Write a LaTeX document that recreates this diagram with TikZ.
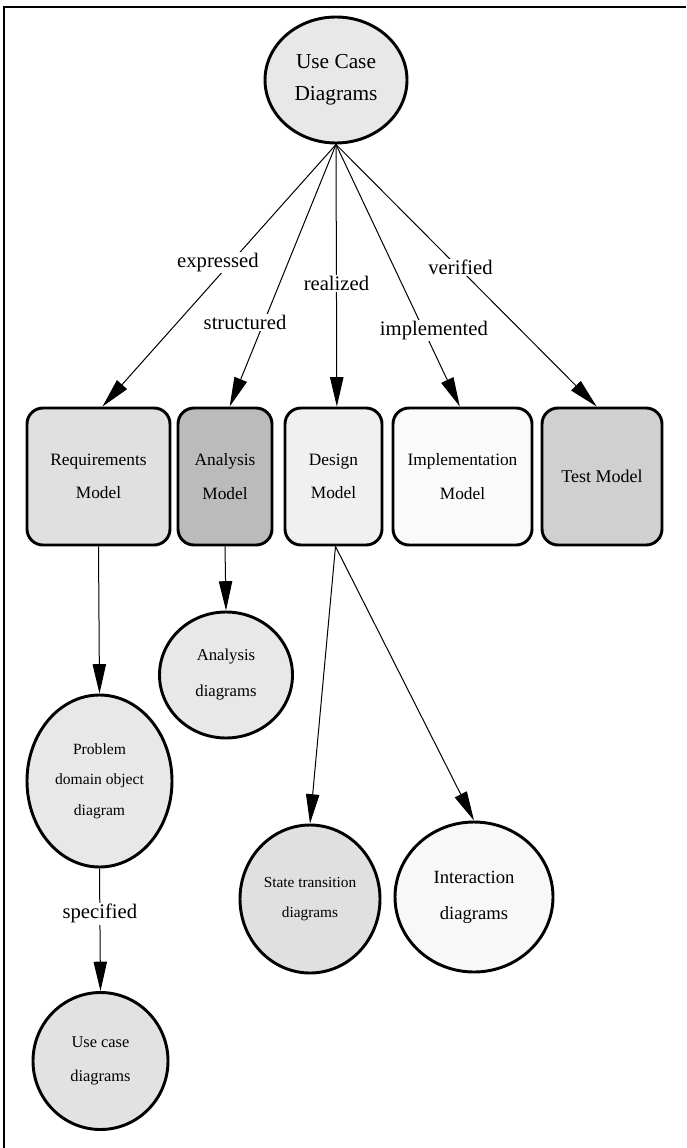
\documentclass[tikz,border=0pt]{standalone}
\usepackage{fontspec}
\setmainfont{Liberation Serif}
\usetikzlibrary{shapes.geometric,arrows.meta}

\definecolor{ucdgray}{HTML}{E8E8E8}
\definecolor{reqgray}{HTML}{E0E0E0}
\definecolor{anagray}{HTML}{BBBBBB}
\definecolor{desgray}{HTML}{F0F0F0}
\definecolor{impgray}{HTML}{FAFAFA}
\definecolor{tstgray}{HTML}{D0D0D0}
\definecolor{intgray}{HTML}{F8F8F8}

\begin{document}
\begin{tikzpicture}[x=0.75pt, y=-0.75pt,
  oval/.style={ellipse, draw, line width=2.2pt, inner sep=0pt, align=center},
  model/.style={rectangle, rounded corners=12pt, draw, line width=2.2pt,
    minimum height=102.75pt, inner sep=0pt, align=center,
    font=\fontsize{13}{25}\selectfont},
  edge/.style={-{Triangle[length=22pt,width=10pt]}, line width=0.75pt},
  lbl/.style={fill=white, inner sep=1pt, font=\fontsize{15.5}{18}\selectfont}]

  \useasboundingbox (0,0) rectangle (686,1148);

  % Frame
  \draw[line width=2pt] (4,1148) -- (4,7) -- (686,7);

  % Top node
  \node[oval, fill=ucdgray, minimum width=106.5pt, minimum height=94.5pt,
    font=\fontsize{16}{24}\selectfont] (ucd) at (336,80) {Use Case\\Diagrams};

  % Models
  \node[model, fill=reqgray, minimum width=107.25pt] (req) at (98.5,476.5) {Requirements\\Model};
  \node[model, fill=anagray, minimum width=70.5pt] (ana) at (225,476.5) {Analysis\\Model};
  \node[model, fill=desgray, minimum width=72.75pt] (des) at (333.5,476.5) {Design\\Model};
  \node[model, fill=impgray, minimum width=104.25pt] (imp) at (462.5,476.5) {Implementation\\Model};
  \node[model, fill=tstgray, minimum width=90pt, font=\fontsize{13.5}{25}\selectfont] (tst) at (602,476.5) {Test Model};

  % Diagrams
  \node[oval, fill=ucdgray, minimum width=99.75pt, minimum height=94.5pt,
    font=\fontsize{12.5}{27}\selectfont] (anad) at (226,675) {Analysis\\diagrams};
  \node[oval, fill=ucdgray, minimum width=108.75pt, minimum height=129pt,
    font=\fontsize{11.7}{23}\selectfont] (pdod) at (99.5,781) {Problem\\domain object\\diagram};
  \node[oval, fill=reqgray!80!ucdgray, minimum width=101.25pt, minimum height=102.75pt,
    font=\fontsize{12.3}{25}\selectfont] (ucdd) at (100.5,1061) {Use case\\diagrams};
  \node[oval, fill=reqgray, minimum width=105pt, minimum height=111pt,
    font=\fontsize{11.5}{22.5}\selectfont] (std) at (310,899) {State transition\\diagrams};
  \node[oval, fill=intgray, minimum width=118.5pt, minimum height=112.5pt,
    font=\fontsize{14}{27}\selectfont] (intd) at (474,897) {Interaction\\diagrams};

  % Edges from the use case diagrams
  \draw[edge] (ucd.south) -- node[lbl, pos=0.45, xshift=-9.75pt] {expressed} ([xshift=3pt]req.north);
  \draw[edge] (ucd.south) -- node[lbl, pos=0.68, xshift=-14pt] {structured} ([xshift=3.5pt]ana.north);
  \draw[edge] (ucd.south) -- node[lbl, pos=0.53] {realized} ([xshift=2.5pt]des.north);
  \draw[edge] (ucd.south) -- node[lbl, pos=0.71, xshift=7.5pt] {implemented} ([xshift=-2pt]imp.north);
  \draw[edge] (ucd.south) -- node[lbl, pos=0.47, xshift=1.5pt] {verified} ([xshift=-4pt]tst.north);

  % Edges below the models
  \draw[edge] (req.south) -- (pdod.north);
  \draw[edge] (ana.south) -- (anad.north);
  \draw[edge] ([xshift=1.5pt]des.south) -- (std.north);
  \draw[edge] ([xshift=1.5pt]des.south) -- (intd.north);
  \draw[edge] (pdod.south) -- node[lbl, pos=0.37] {specified} (ucdd.north);

\end{tikzpicture}
\end{document}
